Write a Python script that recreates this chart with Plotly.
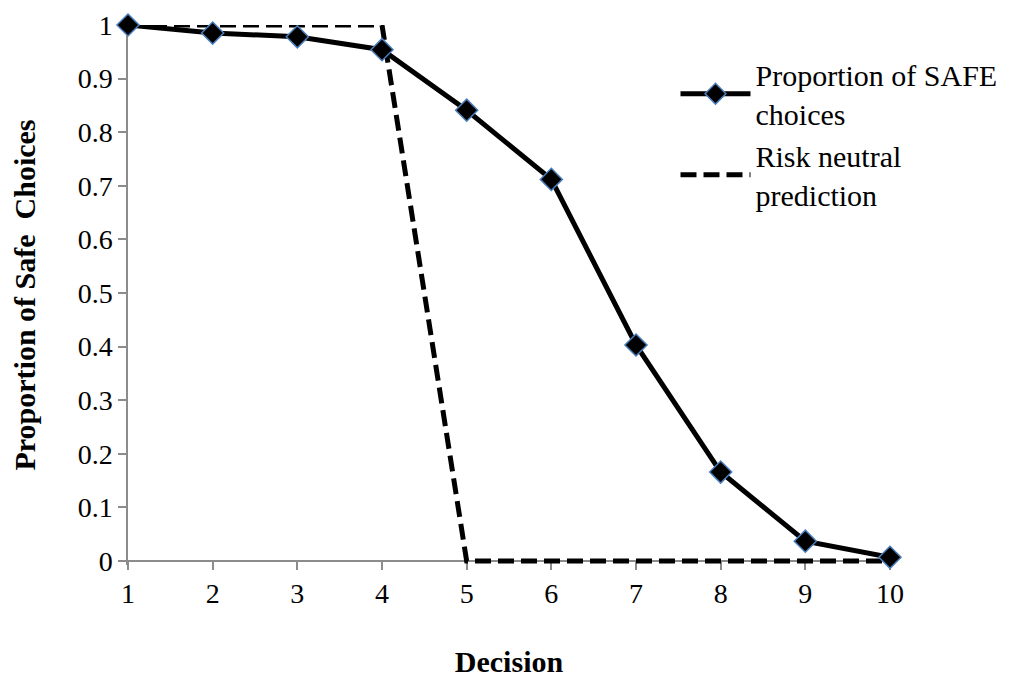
import plotly.graph_objects as go

decisions = [1, 2, 3, 4, 5, 6, 7, 8, 9, 10]
safe_prop = [1.0, 0.985, 0.978, 0.954, 0.841, 0.712, 0.403, 0.166, 0.037, 0.007]
risk_neutral = [1, 1, 1, 1, 0, 0, 0, 0, 0, 0]
y_ticks = [0, 0.1, 0.2, 0.3, 0.4, 0.5, 0.6, 0.7, 0.8, 0.9, 1]
y_tick_text = ["0", "0.1", "0.2", "0.3", "0.4", "0.5", "0.6", "0.7", "0.8", "0.9", "1"]

font = "Liberation Serif, Times New Roman, serif"
pad = 0.0074  # small room below zero so the dashed line at 0 is not clipped

fig = go.Figure()
fig.add_trace(go.Scatter(
    x=decisions, y=risk_neutral, mode="lines",
    name="Risk neutral<br>prediction",
    line=dict(color="black", width=5, dash="16px,7px"),
    cliponaxis=False,
))
fig.add_trace(go.Scatter(
    x=decisions, y=safe_prop, mode="lines+markers",
    name="Proportion of SAFE<br>choices",
    line=dict(color="black", width=5),
    marker=dict(symbol="diamond", size=17, color="black",
                line=dict(color="#4a7ebb", width=1.5)),
    cliponaxis=False,
))

fig.update_layout(
    width=1019, height=681,
    margin=dict(l=120, r=137, t=17, b=124, autoexpand=False),
    paper_bgcolor="white", plot_bgcolor="white",
    font=dict(family=font, size=28, color="black"),
    showlegend=True,
    legend=dict(
        x=0.7185, y=0.957, xanchor="left", yanchor="top",
        traceorder="reversed",
        font=dict(family=font, size=30, color="black"),
        itemwidth=70,
        bgcolor="rgba(0,0,0,0)",
        tracegroupgap=2,
    ),
    xaxis=dict(
        range=[1, 10], tickmode="array", tickvals=decisions,
        ticktext=[str(d) for d in decisions],
        anchor="free", position=pad / (1 + pad),
        automargin=False,
        showgrid=False, zeroline=False, layer="below traces",
        showline=True, linecolor="#8c8c8c", linewidth=1.5,
        ticks="outside", ticklen=8, tickcolor="#8c8c8c", tickwidth=1.5,
        tickfont=dict(family=font, size=28),
        ticklabeloverflow="allow",
        title=dict(text="<b>Decision</b>", font=dict(family=font, size=30), standoff=42),
    ),
    yaxis=dict(
        range=[-pad, 1], tickmode="array", tickvals=y_ticks, ticktext=y_tick_text,
        automargin=False,
        showgrid=False, zeroline=False, layer="below traces",
        showline=True, linecolor="#8c8c8c", linewidth=1.5,
        ticks="outside", ticklen=8, tickcolor="#8c8c8c", tickwidth=1.5,
        tickfont=dict(family=font, size=28),
        ticklabeloverflow="allow",
        title=dict(text="<b>Proportion of Safe  Choices</b>", font=dict(family=font, size=30), standoff=37),
    ),
)

fig.write_html("out.html")
